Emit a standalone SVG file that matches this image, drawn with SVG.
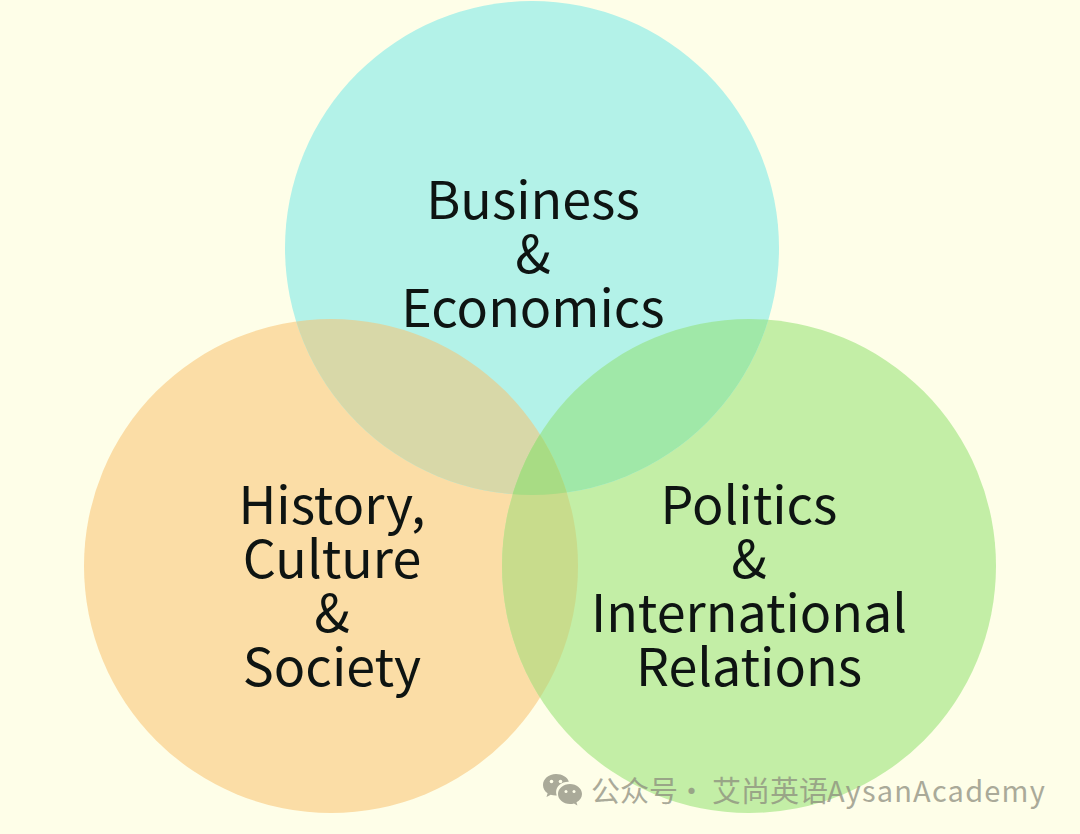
<svg xmlns="http://www.w3.org/2000/svg" width="1080" height="834" viewBox="0 0 1080 834">
<defs>
<clipPath id="cb"><circle cx="532" cy="248" r="247"/></clipPath>
<clipPath id="ch"><circle cx="331" cy="566" r="247"/></clipPath>
<clipPath id="cp"><circle cx="749" cy="566" r="247"/></clipPath>
</defs>
<style>
.t{font-family:"Noto Sans CJK SC","Noto Sans",sans-serif;font-size:52px;fill:#0e1412;text-anchor:middle}
.w{font-family:"Noto Sans CJK SC","Noto Sans",sans-serif;font-size:29px;fill:#8a8a7c}
.l{letter-spacing:1.2px}
</style>
<rect width="1080" height="834" fill="#fefee8"/>
<g id="history"><circle cx="331" cy="566" r="247" fill="#fbdda6"/>
<text class="t"><tspan x="332" y="524">History,</tspan><tspan x="332" y="578">Culture</tspan><tspan x="332" y="632">&amp;</tspan><tspan x="332" y="686">Society</tspan></text></g>
<g id="politics"><circle cx="749" cy="566" r="247" fill="#c3eea6"/>
<text class="t"><tspan x="749" y="524">Politics</tspan><tspan x="749" y="578">&amp;</tspan><tspan x="749" y="632">International</tspan><tspan x="749" y="686">Relations</tspan></text></g>
<g id="business"><circle cx="532" cy="248" r="247" fill="#b3f2e8"/>
<g clip-path="url(#ch)"><circle cx="532" cy="248" r="247" fill="#d8d8a8"/></g>
<g clip-path="url(#cp)"><circle cx="532" cy="248" r="247" fill="#a0e8a8"/></g>
<g clip-path="url(#ch)"><circle cx="749" cy="566" r="247" fill="#c8dc8c"/></g>
<g clip-path="url(#cb)"><g clip-path="url(#ch)"><circle cx="749" cy="566" r="247" fill="#a8dc84"/></g></g>
<text class="t"><tspan x="533" y="219">Business</tspan><tspan x="533" y="273">&amp;</tspan><tspan x="533" y="327">Economics</tspan></text></g>
<g id="watermark" opacity="0.72">
<path d="M556 774c-7.500 0-13 5-13 11 0 3.500 1.800 6.300 4.600 8.300l-1.100 3.700 4.200-2.200c1.600.5 3.300.8 5 .8l1 0c-.4-1.200-.6-2.400-.6-3.600 0-5.800 5.400-10.300 12-10.300l.7 0c-1.200-4.500-6.600-7.700-12.800-7.700z" fill="#8a8a7c"/>
<path d="M570 784c-6.600 0-12 4.500-12 10 0 5.500 5.400 10 12 10 1.400 0 2.800-.2 4-.6l3.400 2-.9-3.200c3.300-1.800 5.500-4.800 5.500-8.200 0-5.500-5.400-10-12-10z" fill="#8a8a7c"/>
<circle cx="551.500" cy="781.500" r="1.800" fill="#fefee8"/><circle cx="560.500" cy="781.500" r="1.800" fill="#fefee8"/>
<circle cx="566" cy="791.500" r="1.500" fill="#fefee8"/><circle cx="574" cy="791.500" r="1.500" fill="#fefee8"/>
<text class="w" y="802"><tspan x="591">公众号</tspan><tspan x="677">·</tspan><tspan x="712">艾尚英语</tspan><tspan x="827" class="l">AysanAcademy</tspan></text>
</g>
</svg>
